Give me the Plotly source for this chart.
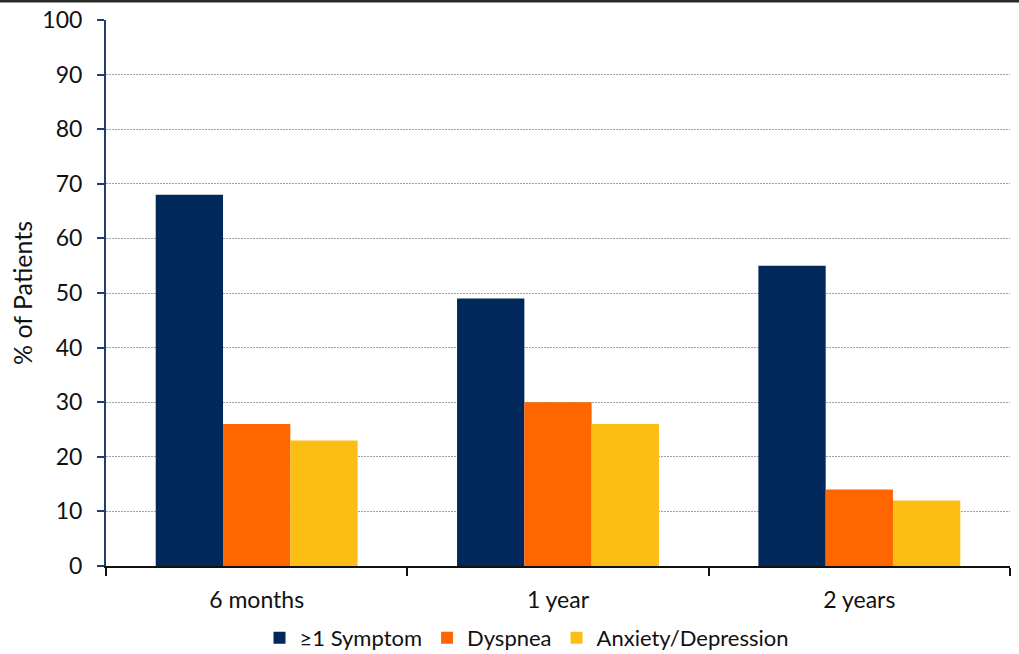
import plotly.graph_objects as go

# Follow-up time points and symptom prevalence (% of patients)
timepoints = ["6 months", "1 year", "2 years"]
any_symptom = [68, 49, 55]
dyspnea = [26, 30, 14]
anxiety_depression = [23, 26, 12]

series_names = ["≥1 Symptom", "Dyspnea", "Anxiety/Depression"]
series_colors = ["#00285A", "#FF6600", "#FDBE14"]
y_ticks = list(range(0, 101, 10))

FONT = "Lato, 'Liberation Sans', sans-serif"

fig = go.Figure()
for name, vals, col in zip(series_names, [any_symptom, dyspnea, anxiety_depression], series_colors):
    fig.add_trace(go.Bar(
        x=timepoints, y=vals, name=name,
        marker=dict(color=col, line=dict(width=0)),
    ))

W, H = 1019, 654
ML, MR, MT, MB = 106, 9, 20, 88
pw, ph = W - ML - MR, H - MT - MB

fig.update_layout(
    width=W, height=H,
    margin=dict(l=ML, r=MR, t=MT, b=MB, autoexpand=False),
    paper_bgcolor="white", plot_bgcolor="white",
    barmode="group", bargap=0.33, bargroupgap=0,
    font=dict(family=FONT, color="#111111", size=19),
    showlegend=True,
    legend=dict(
        orientation="h", x=(527 - ML) / pw, xanchor="center",
        y=-72 / ph, yanchor="middle",
        font=dict(size=22), itemwidth=30, traceorder="normal",
    ),
    xaxis=dict(
        type="category", tickson="boundaries",
        ticks="outside", ticklen=8, tickcolor="#111111", tickwidth=1.5,
        showline=True, linecolor="#111111", linewidth=2,
        showgrid=False, tickfont=dict(size=23, color="#111111"),
        ticklabelstandoff=12,
    ),
    yaxis=dict(
        range=[0, 100], tickvals=y_ticks, ticks="outside", ticklen=7,
        tickcolor="#1F3F6E", tickwidth=1.5,
        showline=True, linecolor="#1F3F6E", linewidth=2,
        showgrid=True, gridcolor="#A0A0A0", griddash="2px,1px", gridwidth=1,
        zeroline=False, tickfont=dict(size=23, color="#111111"),
        ticklabelstandoff=10,
        title=dict(text="% of Patients", font=dict(size=25), standoff=3),
    ),
    shapes=[dict(
        type="line", xref="paper", yref="paper",
        x0=-ML / pw, x1=(W - ML) / pw,
        y0=1 + (MT - 1) / ph, y1=1 + (MT - 1) / ph,
        line=dict(color="#2B2B2B", width=3),
    )],
)

fig.write_html("out.html")
